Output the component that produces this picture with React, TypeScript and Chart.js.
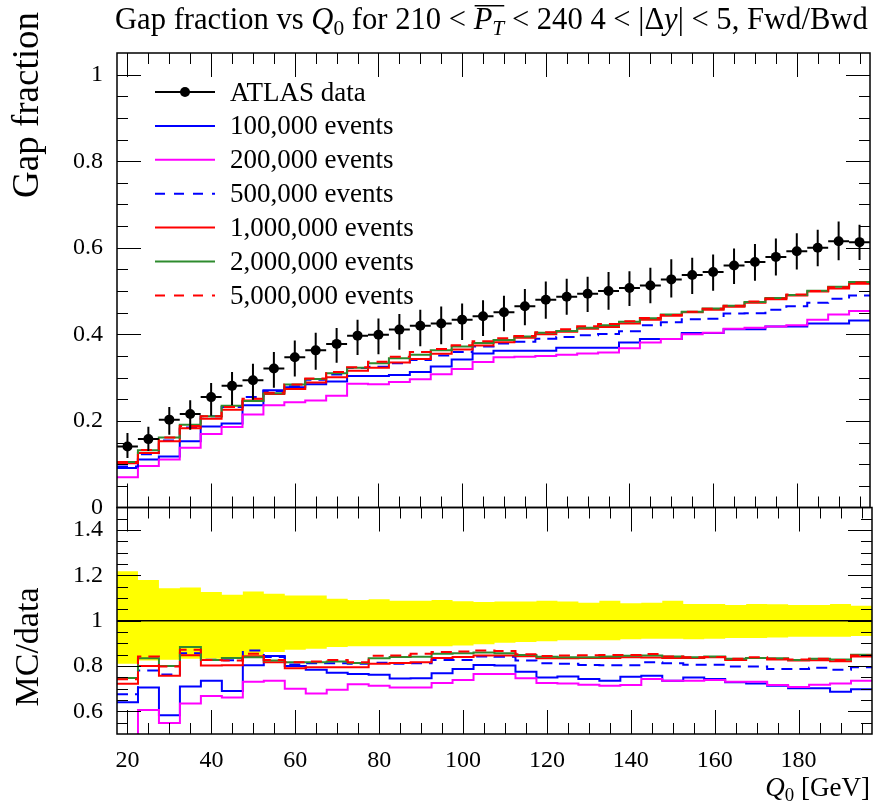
import React, { useEffect, useRef } from "react";
import { Chart, registerables } from "chart.js";

Chart.register(...registerables);

// ---- data -------------------------------------------------------------

// Q0 bin centres [GeV]; every bin is 5 GeV wide
const binCentres = [
  20, 25, 30, 35, 40, 45, 50, 55, 60, 65, 70, 75, 80, 85, 90, 95, 100, 105,
  110, 115, 120, 125, 130, 135, 140, 145, 150, 155, 160, 165, 170, 175, 180, 185, 190, 195,
];
const binHalfWidth = 2.5;

// ATLAS gap fraction and its relative uncertainties (up / down)
const atlasData = [
  0.141, 0.158, 0.203, 0.216, 0.255, 0.281, 0.294, 0.321, 0.347, 0.363, 0.378, 0.397,
  0.399, 0.411, 0.420, 0.425, 0.434, 0.442, 0.451, 0.465, 0.480, 0.487, 0.494, 0.500,
  0.507, 0.513, 0.527, 0.537, 0.544, 0.559, 0.567, 0.579, 0.592, 0.600, 0.615, 0.613,
];
const atlasRelErrUp = [
  0.219, 0.180, 0.144, 0.147, 0.127, 0.115, 0.129, 0.119, 0.112, 0.112, 0.097, 0.092,
  0.095, 0.088, 0.088, 0.092, 0.086, 0.083, 0.085, 0.085, 0.088, 0.085, 0.079, 0.088,
  0.077, 0.080, 0.088, 0.074, 0.074, 0.070, 0.074, 0.073, 0.070, 0.069, 0.074, 0.066,
];
const atlasRelErrDown = [
  0.190, 0.175, 0.172, 0.168, 0.168, 0.160, 0.153, 0.138, 0.128, 0.124, 0.116, 0.113,
  0.113, 0.113, 0.113, 0.113, 0.109, 0.104, 0.097, 0.094, 0.091, 0.086, 0.086, 0.086,
  0.082, 0.080, 0.079, 0.082, 0.079, 0.076, 0.076, 0.074, 0.071, 0.071, 0.071, 0.067,
];

// MC predictions, gap fraction per bin
const mc100k = [
  0.091, 0.111, 0.118, 0.153, 0.187, 0.194, 0.236, 0.271, 0.278, 0.285, 0.291, 0.304,
  0.304, 0.306, 0.313, 0.326, 0.342, 0.356, 0.362, 0.362, 0.362, 0.369, 0.369, 0.369,
  0.381, 0.389, 0.389, 0.403, 0.403, 0.412, 0.412, 0.418, 0.418, 0.425, 0.425, 0.432,
];
const mc200k = [
  0.070, 0.096, 0.111, 0.138, 0.170, 0.186, 0.215, 0.236, 0.243, 0.247, 0.258, 0.286,
  0.285, 0.290, 0.296, 0.308, 0.320, 0.336, 0.347, 0.348, 0.350, 0.353, 0.356, 0.358,
  0.368, 0.381, 0.389, 0.400, 0.404, 0.413, 0.415, 0.418, 0.421, 0.434, 0.446, 0.454,
];
const mc500k = [
  0.095, 0.123, 0.155, 0.185, 0.211, 0.232, 0.255, 0.269, 0.280, 0.295, 0.307, 0.322,
  0.325, 0.333, 0.341, 0.351, 0.359, 0.372, 0.379, 0.383, 0.390, 0.394, 0.398, 0.401,
  0.407, 0.421, 0.428, 0.435, 0.436, 0.448, 0.449, 0.457, 0.465, 0.473, 0.482, 0.490,
];
const mc1M = [
  0.102, 0.126, 0.153, 0.183, 0.205, 0.226, 0.247, 0.262, 0.274, 0.289, 0.301, 0.316,
  0.323, 0.335, 0.343, 0.355, 0.365, 0.374, 0.382, 0.392, 0.400, 0.406, 0.413, 0.417,
  0.425, 0.434, 0.443, 0.451, 0.457, 0.464, 0.473, 0.481, 0.490, 0.499, 0.506, 0.517,
];
const mc2M = [
  0.105, 0.132, 0.162, 0.191, 0.211, 0.235, 0.246, 0.264, 0.284, 0.297, 0.310, 0.323,
  0.333, 0.345, 0.353, 0.363, 0.372, 0.380, 0.387, 0.395, 0.404, 0.408, 0.415, 0.421,
  0.429, 0.437, 0.446, 0.452, 0.460, 0.466, 0.475, 0.484, 0.491, 0.501, 0.510, 0.521,
];
const mc5M = [
  0.105, 0.133, 0.162, 0.188, 0.211, 0.232, 0.251, 0.265, 0.284, 0.298, 0.313, 0.324,
  0.337, 0.348, 0.359, 0.366, 0.375, 0.384, 0.391, 0.396, 0.405, 0.412, 0.419, 0.424,
  0.430, 0.438, 0.445, 0.452, 0.459, 0.466, 0.476, 0.483, 0.492, 0.500, 0.509, 0.520,
];

// MC / data ratios
const ratio100k = [
  0.640, 0.705, 0.583, 0.710, 0.735, 0.690, 0.803, 0.844, 0.800, 0.784, 0.770, 0.765,
  0.762, 0.745, 0.746, 0.768, 0.787, 0.805, 0.802, 0.775, 0.750, 0.754, 0.743, 0.735,
  0.753, 0.757, 0.735, 0.750, 0.743, 0.728, 0.723, 0.713, 0.702, 0.702, 0.686, 0.698,
];
const ratio200k = [
  0.480, 0.606, 0.549, 0.635, 0.668, 0.661, 0.731, 0.735, 0.700, 0.679, 0.695, 0.720,
  0.713, 0.705, 0.705, 0.725, 0.738, 0.765, 0.765, 0.746, 0.725, 0.723, 0.717, 0.713,
  0.716, 0.743, 0.735, 0.735, 0.738, 0.731, 0.731, 0.716, 0.708, 0.717, 0.723, 0.735,
];
const ratio500k = [
  0.675, 0.780, 0.763, 0.857, 0.828, 0.826, 0.869, 0.840, 0.807, 0.812, 0.812, 0.810,
  0.815, 0.810, 0.812, 0.827, 0.827, 0.842, 0.841, 0.824, 0.812, 0.810, 0.805, 0.803,
  0.803, 0.817, 0.812, 0.806, 0.806, 0.798, 0.798, 0.787, 0.787, 0.792, 0.784, 0.795,
];
const ratio1M = [
  0.722, 0.800, 0.757, 0.848, 0.802, 0.803, 0.843, 0.817, 0.790, 0.795, 0.795, 0.795,
  0.810, 0.814, 0.817, 0.836, 0.840, 0.847, 0.847, 0.843, 0.834, 0.834, 0.836, 0.835,
  0.839, 0.838, 0.836, 0.836, 0.839, 0.827, 0.835, 0.829, 0.824, 0.826, 0.821, 0.842,
];
const ratio2M = [
  0.747, 0.834, 0.800, 0.884, 0.827, 0.836, 0.839, 0.824, 0.817, 0.817, 0.820, 0.813,
  0.834, 0.840, 0.841, 0.854, 0.857, 0.860, 0.857, 0.849, 0.841, 0.839, 0.839, 0.842,
  0.846, 0.847, 0.842, 0.839, 0.842, 0.832, 0.836, 0.834, 0.827, 0.832, 0.829, 0.850,
];
const ratio5M = [
  0.742, 0.842, 0.798, 0.872, 0.827, 0.824, 0.854, 0.827, 0.817, 0.820, 0.827, 0.817,
  0.845, 0.847, 0.854, 0.862, 0.864, 0.869, 0.866, 0.852, 0.844, 0.847, 0.848, 0.849,
  0.849, 0.853, 0.842, 0.839, 0.840, 0.832, 0.839, 0.832, 0.829, 0.832, 0.827, 0.847,
];

// axis ticks
const xTickValues = [20, 40, 60, 80, 100, 120, 140, 160, 180];
const mainYTickValues = [0, 0.2, 0.4, 0.6, 0.8, 1];
const ratioYTickValues = [0.6, 0.8, 1, 1.2, 1.4];

// ---- styling ----------------------------------------------------------

const W = 875;
const H = 803;
const X_MIN = 17.5;
const X_MAX = 197.5;
const PLOT_LEFT = 117;
const PLOT_RIGHT = 872;
const MAIN_TOP = 53;
const SPLIT = 507.5;
const RATIO_BOTTOM = 734;
const SERIF = '"Liberation Serif", "Times New Roman", serif';
const DASH = [11, 7];
const LEGEND_DASH = [10, 9];

const series = [
  { label: "100,000 events", main: mc100k, ratio: ratio100k, color: "#0000ff", dashed: false },
  { label: "200,000 events", main: mc200k, ratio: ratio200k, color: "#ff00ff", dashed: false },
  { label: "500,000 events", main: mc500k, ratio: ratio500k, color: "#0000ff", dashed: true },
  { label: "1,000,000 events", main: mc1M, ratio: ratio1M, color: "#ff0000", dashed: false },
  { label: "2,000,000 events", main: mc2M, ratio: ratio2M, color: "#2e8b2e", dashed: false },
  { label: "5,000,000 events", main: mc5M, ratio: ratio5M, color: "#ff0000", dashed: true },
];

// histogram outline: one point per lower bin edge plus the closing upper edge
function histPoints(values: number[]) {
  const pts = values.map((v, i) => ({ x: binCentres[i] - binHalfWidth, y: v }));
  pts.push({ x: binCentres[binCentres.length - 1] + binHalfWidth, y: values[values.length - 1] });
  return pts;
}

type Run = { text: string; italic?: boolean; sub?: boolean; over?: boolean };

function runsWidth(ctx: CanvasRenderingContext2D, runs: Run[], size: number) {
  let w = 0;
  for (const r of runs) {
    const s = r.sub ? size * 0.7 : size;
    ctx.font = `${r.italic ? "italic " : ""}${s}px ${SERIF}`;
    w += ctx.measureText(r.text).width;
  }
  return w;
}

function drawRuns(ctx: CanvasRenderingContext2D, runs: Run[], x: number, y: number, size: number) {
  let cx = x;
  let overStart: number | null = null;
  let overEnd = 0;
  ctx.textAlign = "left";
  ctx.textBaseline = "alphabetic";
  ctx.fillStyle = "#000";
  for (const r of runs) {
    const s = r.sub ? size * 0.7 : size;
    ctx.font = `${r.italic ? "italic " : ""}${s}px ${SERIF}`;
    ctx.fillText(r.text, cx, y + (r.sub ? size * 0.2 : 0));
    const w = ctx.measureText(r.text).width;
    if (r.over) {
      if (overStart === null) overStart = cx;
      overEnd = cx + w;
    }
    cx += w;
  }
  if (overStart !== null) {
    ctx.strokeStyle = "#000";
    ctx.lineWidth = 1.5;
    ctx.beginPath();
    ctx.moveTo(overStart + 1, y - size * 0.76);
    ctx.lineTo(overEnd, y - size * 0.76);
    ctx.stroke();
  }
}

function drawRotated(ctx: CanvasRenderingContext2D, text: string, x: number, y: number, size: number, align: CanvasTextAlign) {
  ctx.save();
  ctx.translate(x, y);
  ctx.rotate(-Math.PI / 2);
  ctx.font = `${size}px ${SERIF}`;
  ctx.fillStyle = "#000";
  ctx.textAlign = align;
  ctx.textBaseline = "alphabetic";
  ctx.fillText(text, 0, 0);
  ctx.restore();
}

// frame with inward major/minor ticks on all four sides
function framePlugin(id: string, yMin: number, yMax: number, yMajors: number[]) {
  return {
    id,
    afterDatasetsDraw(chart: any) {
      const { ctx, chartArea: a, scales } = chart;
      const xs = scales.x;
      const ys = scales.y;
      ctx.save();
      ctx.strokeStyle = "#000";
      ctx.lineWidth = 1;
      ctx.beginPath();
      for (let v = 20; v <= 195.001; v += 5) {
        const px = Math.round(xs.getPixelForValue(v)) + 0.5;
        const len = v % 20 === 0 ? 24 : 11;
        ctx.moveTo(px, a.bottom);
        ctx.lineTo(px, a.bottom - len);
        ctx.moveTo(px, a.top);
        ctx.lineTo(px, a.top + len);
      }
      const n = Math.round((yMax - yMin) / 0.05);
      for (let k = 1; k < n; k++) {
        const v = yMin + k * 0.05;
        const py = Math.round(ys.getPixelForValue(v)) + 0.5;
        const major = yMajors.some((m) => Math.abs(m - v) < 1e-6);
        const len = major ? 24 : 11;
        ctx.moveTo(a.left, py);
        ctx.lineTo(a.left + len, py);
        ctx.moveTo(a.right, py);
        ctx.lineTo(a.right - len, py);
      }
      ctx.stroke();
      ctx.lineWidth = 1.5;
      ctx.strokeRect(a.left, a.top, a.right - a.left, a.bottom - a.top);
      ctx.restore();
    },
  };
}

// data error bars, drawn right before the data markers
const atlasErrorBars = {
  id: "atlasErrorBars",
  beforeDatasetDraw(chart: any, args: any) {
    if (args.index !== 0) return;
    const { ctx, scales } = chart;
    const xs = scales.x;
    const ys = scales.y;
    ctx.save();
    ctx.strokeStyle = "#000";
    ctx.lineWidth = 2;
    ctx.beginPath();
    binCentres.forEach((c, i) => {
      const v = atlasData[i];
      const px = xs.getPixelForValue(c);
      const py = ys.getPixelForValue(v);
      ctx.moveTo(xs.getPixelForValue(c - binHalfWidth), py);
      ctx.lineTo(xs.getPixelForValue(c + binHalfWidth), py);
      ctx.moveTo(px, ys.getPixelForValue(v * (1 + atlasRelErrUp[i])));
      ctx.lineTo(px, ys.getPixelForValue(v * (1 - atlasRelErrDown[i])));
    });
    ctx.stroke();
    ctx.restore();
  },
};

const titleRuns: Run[] = [
  { text: "Gap fraction vs " },
  { text: "Q", italic: true },
  { text: "0", sub: true },
  { text: " for 210 < " },
  { text: "P", italic: true, over: true },
  { text: "T", italic: true, sub: true, over: true },
  { text: " < 240 4 < |Δ" },
  { text: "y", italic: true },
  { text: "| < 5, Fwd/Bwd" },
];

const xLabelRuns: Run[] = [
  { text: "Q", italic: true },
  { text: "0", sub: true },
  { text: " [GeV]" },
];

const TITLE_LEFT = 115;
const TITLE_RIGHT = 868;

const mainDecor = {
  id: "mainDecor",
  afterDraw(chart: any) {
    const ctx: CanvasRenderingContext2D = chart.ctx;
    ctx.save();
    // title, sized to span the plot width
    const base = runsWidth(ctx, titleRuns, 30);
    const titleSize = (30 * (TITLE_RIGHT - TITLE_LEFT)) / base;
    drawRuns(ctx, titleRuns, TITLE_LEFT, 29, titleSize);
    // y axis label
    drawRotated(ctx, "Gap fraction", 38, 12, 37, "right");
    // legend
    const lx0 = 155;
    const lx1 = 215;
    const tx = 230;
    const y0 = 92;
    const dy = 33.9;
    ctx.font = `27px ${SERIF}`;
    ctx.textAlign = "left";
    ctx.textBaseline = "alphabetic";
    ctx.fillStyle = "#000";
    ctx.strokeStyle = "#000";
    ctx.lineWidth = 2;
    ctx.beginPath();
    ctx.moveTo(lx0, y0);
    ctx.lineTo(lx1, y0);
    ctx.stroke();
    ctx.beginPath();
    ctx.arc((lx0 + lx1) / 2, y0, 5, 0, Math.PI * 2);
    ctx.fill();
    ctx.fillText("ATLAS data", tx, y0 + 8.5);
    series.forEach((s, k) => {
      const y = y0 + dy * (k + 1);
      ctx.strokeStyle = s.color;
      ctx.lineWidth = 2;
      ctx.setLineDash(s.dashed ? LEGEND_DASH : []);
      ctx.beginPath();
      ctx.moveTo(lx0, y);
      ctx.lineTo(lx1, y);
      ctx.stroke();
      ctx.setLineDash([]);
      ctx.fillStyle = "#000";
      ctx.fillText(s.label, tx, y + 8.5);
    });
    ctx.restore();
  },
};

const ratioDecor = {
  id: "ratioDecor",
  afterDraw(chart: any) {
    const ctx: CanvasRenderingContext2D = chart.ctx;
    ctx.save();
    drawRotated(ctx, "MC/data", 38, 647, 34, "center");
    const w = runsWidth(ctx, xLabelRuns, 27);
    drawRuns(ctx, xLabelRuns, 870 - w, 796, 27);
    ctx.restore();
  },
};

const tickFont = { family: SERIF, size: 24 };

function mainConfig(): any {
  return {
    type: "line",
    data: {
      datasets: [
        {
          label: "ATLAS data",
          data: binCentres.map((x, i) => ({ x, y: atlasData[i] })),
          showLine: false,
          pointRadius: 5,
          pointBackgroundColor: "#000",
          pointBorderWidth: 0,
          order: 0,
        },
        ...series.map((s, k) => ({
          label: s.label,
          data: histPoints(s.main),
          borderColor: s.color,
          borderWidth: 2,
          borderDash: s.dashed ? DASH : [],
          stepped: true,
          pointRadius: 0,
          fill: false,
          order: series.length - k,
        })),
      ],
    },
    options: {
      animation: false,
      responsive: false,
      devicePixelRatio: 1,
      events: [],
      layout: { padding: { left: 0, right: W - PLOT_RIGHT, top: MAIN_TOP, bottom: H - SPLIT } },
      plugins: { legend: { display: false }, tooltip: { enabled: false }, title: { display: false } },
      scales: {
        x: { type: "linear", min: X_MIN, max: X_MAX, display: false },
        y: {
          type: "linear",
          min: 0,
          max: 1.05,
          grid: { display: false, drawTicks: false },
          border: { display: false },
          afterBuildTicks: (s: any) => {
            s.ticks = mainYTickValues.map((value) => ({ value }));
          },
          afterFit: (s: any) => {
            s.width = PLOT_LEFT;
          },
          ticks: { padding: 14, color: "#000", font: tickFont, callback: (v: any) => String(v) },
        },
      },
    },
    plugins: [atlasErrorBars, framePlugin("mainFrame", 0, 1.05, mainYTickValues), mainDecor],
  };
}

function ratioConfig(): any {
  const band = { borderWidth: 0, borderColor: "rgba(0,0,0,0)", pointRadius: 0, stepped: true, order: 20 };
  return {
    type: "line",
    data: {
      datasets: [
        {
          ...band,
          label: "data uncertainty",
          data: histPoints(atlasRelErrUp.map((e) => 1 + e)),
          backgroundColor: "#ffff00",
          fill: "+1",
        },
        {
          ...band,
          label: "data uncertainty (low)",
          data: histPoints(atlasRelErrDown.map((e) => 1 - e)),
          fill: false,
        },
        {
          label: "unity",
          data: [
            { x: X_MIN, y: 1 },
            { x: X_MAX, y: 1 },
          ],
          borderColor: "#000",
          borderWidth: 1.5,
          pointRadius: 0,
          fill: false,
          order: 10,
        },
        ...series.map((s, k) => ({
          label: s.label,
          data: histPoints(s.ratio),
          borderColor: s.color,
          borderWidth: 2,
          borderDash: s.dashed ? DASH : [],
          stepped: true,
          pointRadius: 0,
          fill: false,
          order: series.length - k,
        })),
      ],
    },
    options: {
      animation: false,
      responsive: false,
      devicePixelRatio: 1,
      events: [],
      layout: { padding: { left: 0, right: W - PLOT_RIGHT, top: SPLIT, bottom: 0 } },
      plugins: { legend: { display: false }, tooltip: { enabled: false }, title: { display: false } },
      scales: {
        x: {
          type: "linear",
          min: X_MIN,
          max: X_MAX,
          grid: { display: false, drawTicks: false },
          border: { display: false },
          afterBuildTicks: (s: any) => {
            s.ticks = xTickValues.map((value) => ({ value }));
          },
          afterFit: (s: any) => {
            s.height = H - RATIO_BOTTOM;
          },
          ticks: { padding: 12, autoSkip: false, maxRotation: 0, color: "#000", font: tickFont, callback: (v: any) => String(v) },
        },
        y: {
          type: "linear",
          min: 0.5,
          max: 1.5,
          grid: { display: false, drawTicks: false },
          border: { display: false },
          afterBuildTicks: (s: any) => {
            s.ticks = ratioYTickValues.map((value) => ({ value }));
          },
          afterFit: (s: any) => {
            s.width = PLOT_LEFT;
          },
          ticks: { padding: 14, color: "#000", font: tickFont, callback: (v: any) => String(v) },
        },
      },
    },
    plugins: [framePlugin("ratioFrame", 0.5, 1.5, ratioYTickValues), ratioDecor],
  };
}

export default function App() {
  const mainRef = useRef<HTMLCanvasElement>(null);
  const ratioRef = useRef<HTMLCanvasElement>(null);

  useEffect(() => {
    const main = new Chart(mainRef.current as HTMLCanvasElement, mainConfig());
    const ratio = new Chart(ratioRef.current as HTMLCanvasElement, ratioConfig());
    return () => {
      main.destroy();
      ratio.destroy();
    };
  }, []);

  const canvasStyle: React.CSSProperties = { position: "absolute", left: 0, top: 0, width: W, height: H };
  return (
    <div style={{ position: "fixed", left: 0, top: 0, width: W, height: H, background: "#fff" }}>
      <canvas ref={mainRef} width={W} height={H} style={canvasStyle} />
      <canvas ref={ratioRef} width={W} height={H} style={canvasStyle} />
    </div>
  );
}
